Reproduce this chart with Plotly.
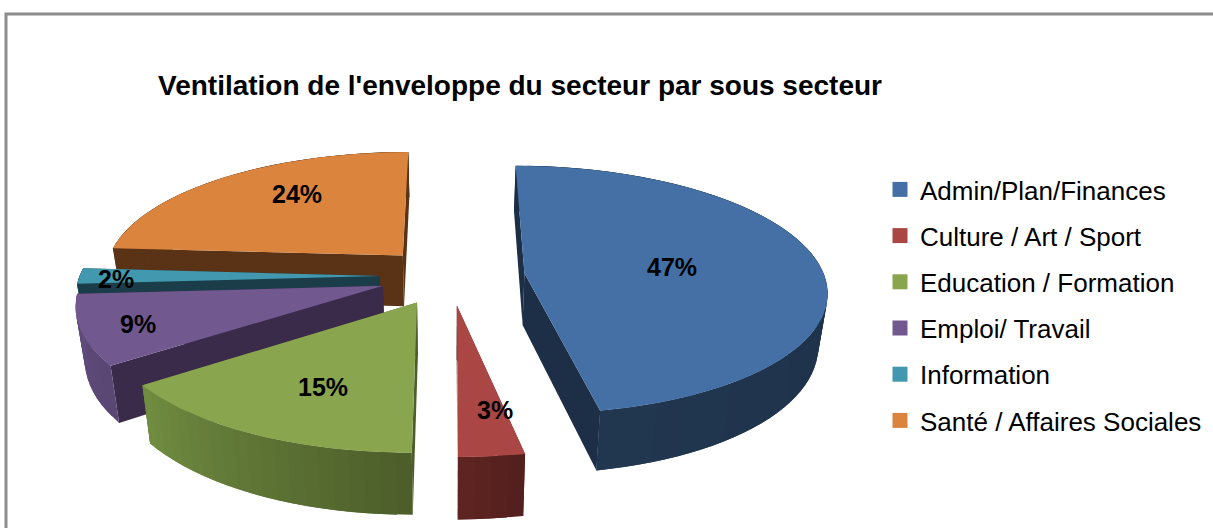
import math
import plotly.graph_objects as go

# Data
categories = ["Admin/Plan/Finances", "Culture / Art / Sport", "Education / Formation",
              "Emploi/ Travail", "Information", "Santé / Affaires Sociales"]
values = [47, 3, 15, 9, 2, 24]
title_text = "Ventilation de l'enveloppe du secteur par sous secteur"

# Style
top_colors = ["#4470a6", "#aa4643", "#89a54e", "#71588f", "#4198af", "#db843d"]
wall_colors = ["#1c2f47", "#5b221f", "#4d5e2b", "#3a2b4b", "#1b3d4a", "#5a3216"]
rim_start = ["#1b2d45", "#54201e", "#4d5e2b", "#5a4774", "#1b3d4a", "#5a3216"]
rim_end = ["#21374f", "#5e2421", "#708c40", "#604c7c", "#1b3d4a", "#5a3216"]
pulls = [0.25, 0.235, 0.235, 0.235, 0.235, 0.235]
label_polar = [(0.5, 84.6), (0.73, 171.5), (0.657, 204.3), (0.822, 249.2), (0.875, 268.4), (0.692, 324.7)]
draw_order = [5, 4, 3, 0, 2, 1]
CX, CY, RX, RY, K, DEPTH, SHRINK = 450, 276, 300, 122.5, 0.134, 52, 0.975
FONT = "Liberation Sans"


def project(theta, pull_dir, pull, r=1.0, low=False):
    a, b = math.radians(theta), math.radians(pull_dir)
    X = RX * (r * math.sin(a) + pull * math.sin(b))
    Y = -r * math.cos(a) - pull * math.cos(b)
    s = 1 / (1 - K * Y)
    x, y = CX + X * s, CY + RY * Y * s
    if low:
        x, y = CX + X * s * SHRINK, y + DEPTH * s
    return x, y


def mix(c1, c2, t):
    a = [int(c1[i:i + 2], 16) for i in (1, 3, 5)]
    b = [int(c2[i:i + 2], 16) for i in (1, 3, 5)]
    return "#%02x%02x%02x" % tuple(round(p + (q - p) * t) for p, q in zip(a, b))


def poly(fig, pts, color):
    fig.add_trace(go.Scatter(x=[p[0] for p in pts], y=[p[1] for p in pts], mode="lines",
                             fill="toself", fillcolor=color, line=dict(color=color, width=0),
                             showlegend=False, hoverinfo="skip"))


total = sum(values)
bounds, acc = [], 0
for v in values:
    bounds.append((acc / total * 360, (acc + v) / total * 360))
    acc += v

fig = go.Figure()

for i in draw_order:
    a0, a1 = bounds[i]
    mid, p = (a0 + a1) / 2, pulls[i]
    n = max(4, int((a1 - a0) / 2.5))
    angles = [a0 + (a1 - a0) * j / n for j in range(n + 1)]
    # straight cut walls
    for edge in (a0, a1):
        poly(fig, [project(0, mid, p, 0), project(edge, mid, p),
                   project(edge, mid, p, low=True), project(0, mid, p, 0, low=True)], wall_colors[i])
    # outer rim: each shaded segment overlaps the next, so no seams show
    for j in range(n):
        t0, t1 = angles[j], angles[min(j + 2, n)]
        poly(fig, [project(t0, mid, p), project(t1, mid, p),
                   project(t1, mid, p, low=True), project(t0, mid, p, low=True)],
             mix(rim_start[i], rim_end[i], j / max(1, n - 1)))
    # top face
    fine = [a0 + (a1 - a0) * j / (3 * n) for j in range(3 * n + 1)]
    poly(fig, [project(0, mid, p, 0)] + [project(t, mid, p) for t in fine], top_colors[i])

# Legend entries
for i, name in enumerate(categories):
    fig.add_trace(go.Scatter(x=[None], y=[None], mode="markers", name=name, legendgroup=name,
                             marker=dict(symbol="square", size=15, color=top_colors[i]), hoverinfo="skip"))

# Percent labels
for i, v in enumerate(values):
    a0, a1 = bounds[i]
    lx, ly = project(label_polar[i][1], (a0 + a1) / 2, pulls[i], label_polar[i][0])
    fig.add_annotation(x=lx, y=ly, text=f"<b>{v}%</b>", showarrow=False,
                       font=dict(family=FONT, size=25, color="#000000"))

fig.update_layout(
    width=1213, height=528, margin=dict(l=0, r=0, t=0, b=0),
    paper_bgcolor="#ffffff", plot_bgcolor="#ffffff",
    xaxis=dict(range=[0, 1213], visible=False, fixedrange=True),
    yaxis=dict(range=[528, 0], visible=False, fixedrange=True),
    title=dict(text=f"<b>{title_text}</b>", x=158 / 1213, y=1 - 85 / 528, xanchor="left", yanchor="middle",
               font=dict(family=FONT, size=28, color="#000000")),
    legend=dict(x=880 / 1213, y=1 - 166 / 528, xanchor="left", yanchor="top", traceorder="grouped",
                tracegroupgap=9.4, itemclick=False, itemdoubleclick=False,
                font=dict(family=FONT, size=26, color="#000000"), bgcolor="rgba(0,0,0,0)"),
    shapes=[dict(type="rect", xref="x", yref="y", x0=6, y0=14, x1=1225, y1=540,
                 line=dict(color="#8c8c8c", width=3), layer="below")],
)

fig.write_html("out.html", config={"displayModeBar": False}, post_script="document.body.style.margin='0';")
